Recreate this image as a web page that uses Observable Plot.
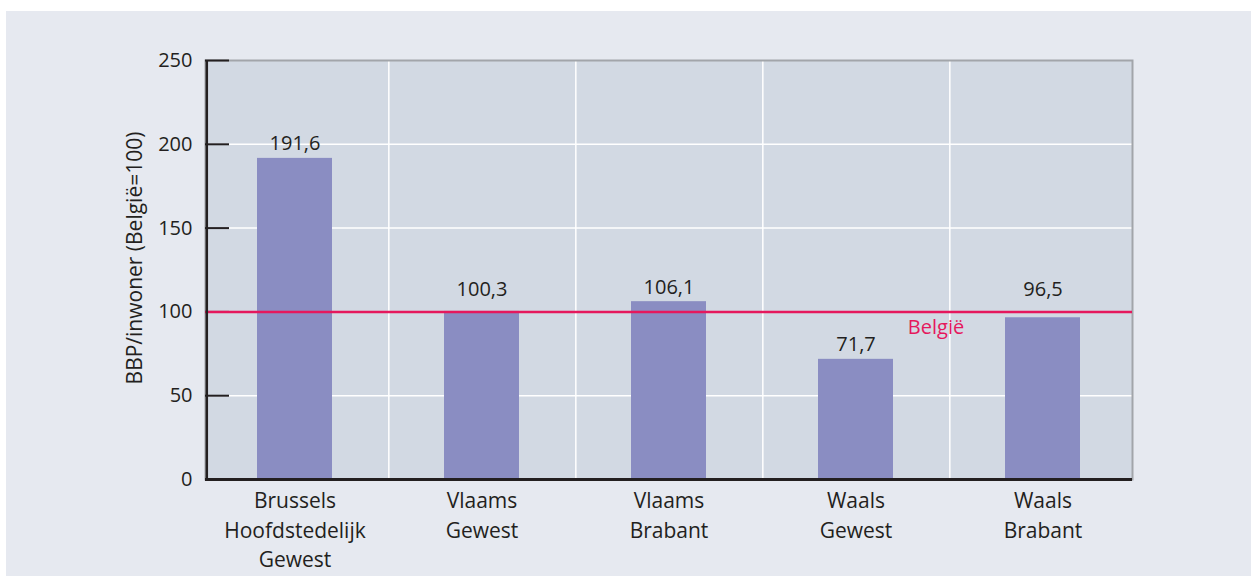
<!DOCTYPE html>
<html><head><meta charset="utf-8">
<script src="https://cdn.jsdelivr.net/npm/d3@7"></script>
<script src="https://cdn.jsdelivr.net/npm/@observablehq/plot@0.6"></script>
<style>
html,body{margin:0;padding:0;background:#fff;width:1251px;height:577px;overflow:hidden;}
#panel{position:absolute;left:6px;top:11px;width:1245px;height:565px;background:#e6e9f0;}
#chart{position:absolute;left:0;top:0;}
</style></head><body><div id="panel"></div><div id="chart"></div>
<script>
const categories = ["Brussels\nHoofdstedelijk\nGewest", "Vlaams\nGewest", "Vlaams\nBrabant", "Waals\nGewest", "Waals\nBrabant"];
const values = [191.6, 100.3, 106.1, 71.7, 96.5];
const valueLabels = ["191,6", "100,3", "106,1", "71,7", "96,5"];
const yTicks = [0, 50, 100, 150, 200, 250];
const referenceValue = 100;
const referenceLabel = "België";
const yLabel = "BBP/inwoner (België=100)";

const data = categories.map((c, i) => ({category: c, value: values[i], label: valueLabels[i]}));
const W = 1251, H = 577, mL = 205, mR = 119, mT = 60, mB = 98;
const plotW = W - mL - mR;
const padInner = 0.6, padOuter = 0.27;
const step = plotW / (categories.length - padInner + 2 * padOuter);
const ink = "#231f20";
const red = "#e5185d";
// keep value labels clear of the reference line
const labelY = d => Math.abs(d.value - referenceValue) < 10 ? Math.max(d.value, 105) : d.value;

const chart = Plot.plot({
  width: W, height: H, marginLeft: mL, marginRight: mR, marginTop: mT, marginBottom: mB,
  style: {background: "transparent", fontFamily: "'Open Sans', sans-serif", color: ink, overflow: "visible"},
  x: {domain: categories, paddingInner: padInner, paddingOuter: padOuter, axis: null},
  y: {domain: [0, 250], axis: null},
  marks: [
    Plot.frame({fill: "#d2d9e3", stroke: "none"}),
    Plot.ruleY(yTicks.slice(1, -1), {stroke: "#fff", strokeWidth: 1.5}),
    Plot.ruleX(categories.slice(0, -1), {x: d => d, stroke: "#fff", strokeWidth: 1.5, dx: step / 2}),
    Plot.barY(data, {x: "category", y: "value", fill: "#8a8dc2"}),
    Plot.frame({stroke: "#a2a5aa", strokeWidth: 2, fill: "none"}),
    Plot.ruleY(yTicks, {y: d => d, insetRight: plotW - 24, stroke: ink, strokeWidth: 2}),
    Plot.ruleY([referenceValue], {stroke: red, strokeWidth: 2.5}),
    Plot.ruleX([categories[0]], {x: d => d, dx: -(padOuter + (1 - padInner) / 2) * step, stroke: ink, strokeWidth: 2.5}),
    Plot.ruleY([0], {stroke: ink, strokeWidth: 3}),
    Plot.text(yTicks, {y: d => d, frameAnchor: "left", text: d => String(d), textAnchor: "end", dx: -13, fontSize: 20, fill: ink}),
    Plot.text(categories, {x: d => d, frameAnchor: "bottom", text: d => d, lineAnchor: "top", lineHeight: 1.4, dy: 8, fontSize: 21, fill: ink}),
    Plot.text(data, {x: "category", y: labelY, text: "label", lineAnchor: "bottom", dy: -8, fontSize: 20, fill: ink}),
    Plot.text([referenceLabel], {x: () => categories[3], y: () => referenceValue, text: d => d, dx: 80, dy: 16, fill: red, fontSize: 20}),
    Plot.text([yLabel], {frameAnchor: "left", text: d => d, textAnchor: "middle", rotate: -90, dx: -70, dy: -12, fontSize: 21, fill: ink})
  ]
});
document.getElementById("chart").appendChild(chart);
</script></body></html>
